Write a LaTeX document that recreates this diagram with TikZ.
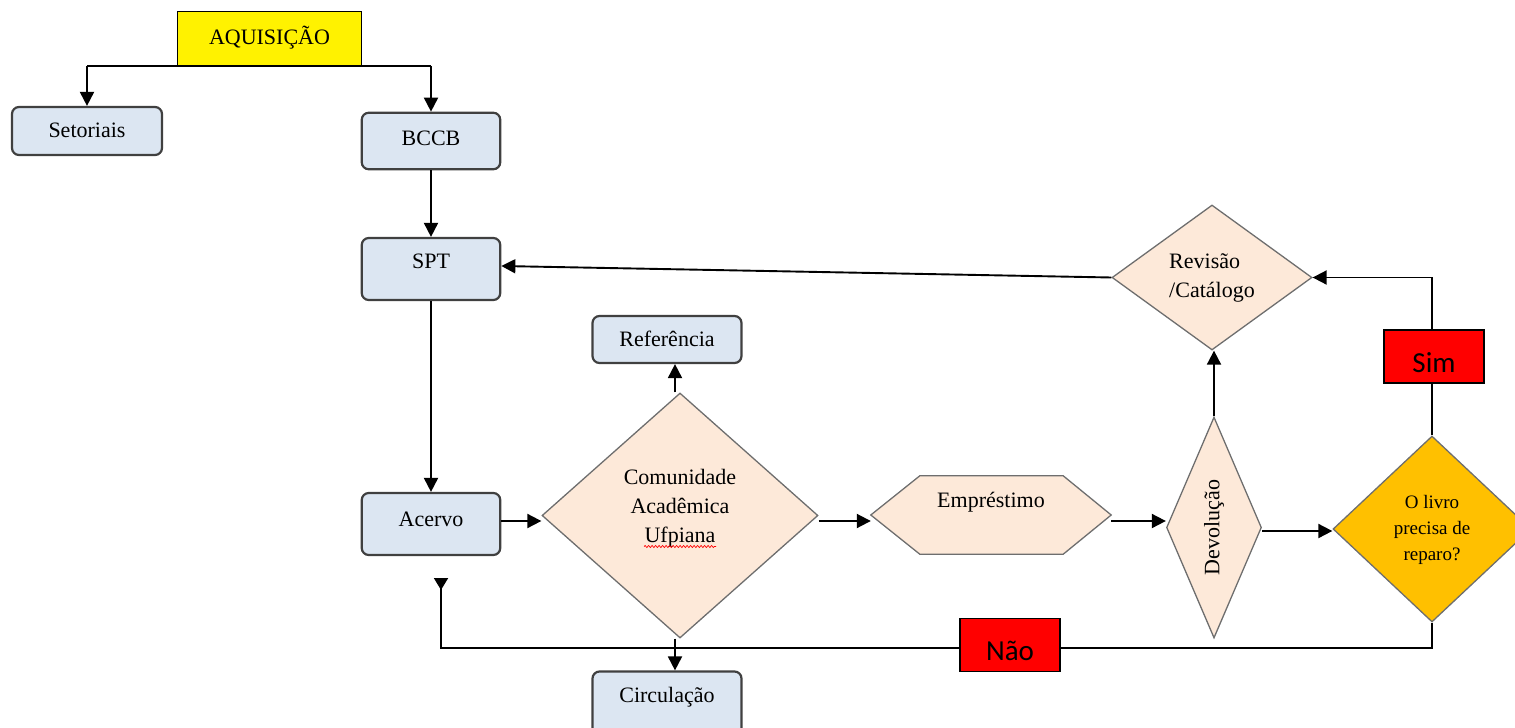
\documentclass[tikz,border=0pt]{standalone}
\usepackage{fontspec}
\setmainfont{Liberation Serif}
\newfontfamily\calibfont{Carlito}
\usetikzlibrary{shapes.geometric,arrows.meta,backgrounds,decorations.pathmorphing}
\definecolor{boxfill}{HTML}{DCE6F2}
\definecolor{boxline}{HTML}{404040}
\definecolor{peach}{HTML}{FDE9D9}
\definecolor{dialine}{HTML}{6E6E6E}
\definecolor{gold}{HTML}{FFC000}
\begin{document}
\begin{tikzpicture}[x=1pt,y=-1pt,
  every node/.style={font=\fontsize{22}{29}\selectfont},
  bx/.style={draw=boxline, line width=2.2pt, fill=boxfill, rounded corners=7pt, inner sep=0pt, text height=16pt, text depth=#1},
  bx/.default=5pt,
  dia/.style={diamond, draw=dialine, line width=1.3pt, fill=peach, inner sep=0pt, aspect=1},
  arr/.style={draw=black, line width=1.9pt, -{Triangle[length=14pt,width=14pt]}},
  lin/.style={draw=black, line width=1.9pt},
  tag/.style={draw=black, line width=1.3pt, fill=red, inner sep=0pt, font=\calibfont\fontsize{29}{32}\selectfont}
]
\useasboundingbox (0,0) rectangle (1515,728);
\clip (0,0) rectangle (1515,728);

% boxes
\node[draw=black, line width=1.3pt, fill=yellow, minimum width=184pt, minimum height=53.5pt, inner sep=0pt, text height=16pt, text depth=5pt] (aq) at (269.5,38.5) {AQUISIÇÃO};
\node[bx=3.4pt, minimum width=150pt, minimum height=48pt] (set) at (87,131) {Setoriais};
\node[bx=6.4pt, minimum width=138.5pt, minimum height=56.5pt] (bccb) at (431,141) {BCCB};
\node[bx=17.4pt, minimum width=138.5pt, minimum height=62pt] (spt) at (431,269) {SPT};
\node[bx=10.4pt, minimum width=138.5pt, minimum height=62pt] (ace) at (431,524) {Acervo};
\node[bx=1.4pt, minimum width=149pt, minimum height=47pt] (ref) at (667,339.5) {Referência};
\node[bx=21.4pt, minimum width=149pt, minimum height=68pt] (cir) at (667,705.5) {Circulação};

% diamonds and hexagon
\node[dia, minimum width=276pt, minimum height=245pt] (com) at (680,515.5) {};
\node[align=center, inner sep=0pt] (comt) at (680,508) {Comunidade\\Acadêmica\\Ufpiana};
\draw[red, line width=0.7pt, decorate, decoration={snake, amplitude=1pt, segment length=3.5pt}] (644,546.5) -- (716,546.5);
\node[dia, aspect=1.38, minimum width=200pt, minimum height=145pt, align=left] (rev) at (1212,277.5) {Revisão\\/Catálogo};
\node[minimum width=240pt, minimum height=78pt, inner sep=0pt, text height=16pt, text depth=30.4pt] (emp) at (991,515) {Empréstimo};
\begin{scope}[on background layer]
\filldraw[draw=dialine, line width=1.3pt, fill=peach] (emp.west) -- ([xshift=49pt]emp.north west) -- ([xshift=-48pt]emp.north east) -- (emp.east) -- ([xshift=-48pt]emp.south east) -- ([xshift=49pt]emp.south west) -- cycle;
\end{scope}
\node[dia, rotate=90, aspect=2.3, minimum width=221pt, minimum height=95pt] (dev) at (1214,527.5) {Devolução};
\node[dia, fill=gold, minimum width=198pt, minimum height=186pt] (liv) at (1432,529) {};
\node[align=center, inner sep=0pt, font=\fontsize{19}{26}\selectfont] (livt) at (1432,530) {O livro\\precisa de\\reparo?};

% helper rows
\coordinate (row) at (0,521);
\coordinate (row2) at (0,531);
\coordinate (nrow) at (0,648);
\coordinate (back) at (441,578);

% connectors
\draw[lin] (aq.south -| set.north) -- (aq.south -| bccb.north);
\draw[arr] (aq.south -| set.north) -- (set.north);
\draw[arr] (aq.south -| bccb.north) -- (bccb.north);
\draw[arr] (bccb.south) -- (spt.north);
\draw[arr] (spt.south) -- (ace.north);
\draw[arr] (rev.west) -- ([yshift=3pt]spt.east);
\draw[arr] (ace.east |- row) -- (com.west |- row);
\draw[arr] (com.east |- row) -- (emp.west |- row);
\draw[arr] (emp.east |- row) -- (dev.north |- row);
\draw[arr] (dev.south |- row2) -- (liv.west |- row2);
\draw[arr] (dev.east) -- (dev.east |- rev.south);
\draw[arr] ([xshift=-5pt]com.north) -- ([xshift=-5pt]com.north |- ref.south);
\draw[arr] ([xshift=-5pt]com.south) -- ([xshift=-5pt]com.south |- cir.north);
\draw[arr] (liv.north) -- (liv.north |- rev.east) -- (rev.east);
\draw[lin, -{Triangle[reversed,length=12pt,width=14pt]}] (liv.south) -- (liv.south |- nrow) -- (back |- nrow) -- (back);

% labels
\node[tag, minimum width=100pt, minimum height=53pt, text height=31pt, text depth=0pt] (sim) at (1434,356.5) {Sim};
\node[tag, minimum width=100pt, minimum height=53pt, text height=30pt, text depth=0pt] (nao) at (1010,645) {Não};
\end{tikzpicture}
\end{document}
